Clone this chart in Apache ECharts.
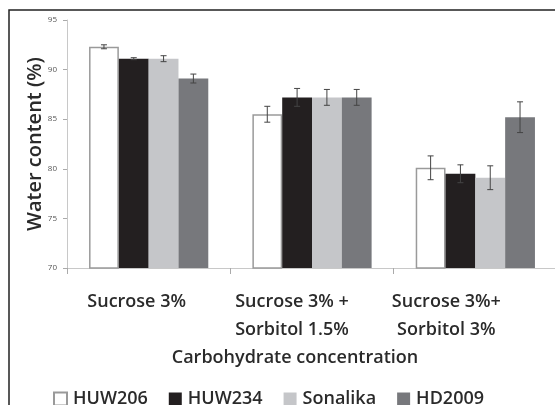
<!DOCTYPE html>
<html><head><meta charset="utf-8">
<script src="https://cdn.jsdelivr.net/npm/echarts@6/dist/echarts.min.js"></script>
<style>html,body{margin:0;padding:0;background:#fff}#c{width:555px;height:405px}</style>
</head><body><div id="c"></div>
<script>
const categories = ['Sucrose 3%', 'Sucrose 3% +\nSorbitol 1.5%', 'Sucrose 3%+\nSorbitol 3%'];
const seriesNames = ['HUW206', 'HUW234', 'Sonalika', 'HD2009'];
const huw206 = [92.3, 85.5, 80.1];
const huw234 = [91.1, 87.2, 79.5];
const sonalika = [91.1, 87.2, 79.1];
const hd2009 = [89.1, 87.2, 85.2];
const errHuw206 = [0.2, 0.8, 1.2];
const errHuw234 = [0.1, 0.9, 0.9];
const errSonalika = [0.3, 0.8, 1.2];
const errHd2009 = [0.45, 0.8, 1.55];
const yTicks = [70, 75, 80, 85, 90, 95];

const values = [huw206, huw234, sonalika, hd2009];
const errs = [errHuw206, errHuw234, errSonalika, errHd2009];
const colors = ['#ffffff', '#231f20', '#c5c6c9', '#77787c'];
const borders = ['#9a9a9a', '#231f20', '#c5c6c9', '#77787c'];
const catGap = 0.27;
const font = '"Open Sans", "DejaVu Sans", sans-serif';
const labelStyle = { fontFamily: font, fontSize: 18, fontWeight: 600, color: '#2a2a2a', lineHeight: 28 };

const chart = echarts.init(document.getElementById('c'));
const series = [];
seriesNames.forEach((n, i) => {
  series.push({
    name: n, type: 'bar', data: values[i], barGap: '0%', barCategoryGap: (catGap * 100) + '%',
    itemStyle: { color: colors[i], borderColor: borders[i], borderWidth: i === 0 ? 1.5 : 0 },
    emphasis: { disabled: true }
  });
});
seriesNames.forEach((n, i) => {
  series.push({
    type: 'custom', name: n + '_err', z: 5,
    data: values[i].map((v, k) => [k, v, errs[i][k]]),
    renderItem: function (params, api) {
      const k = api.value(0), v = api.value(1), e = api.value(2);
      const cw = api.size([1, 0])[0];
      const bw = cw * (1 - catGap) / 4;
      const cx = api.coord([k, v])[0] - cw * (1 - catGap) / 2 + bw * (i + 0.5);
      const yHi = api.coord([k, v + e])[1];
      const yLo = api.coord([k, v - e])[1];
      const cap = 3;
      const st = { stroke: '#444', lineWidth: 1 };
      return { type: 'group', children: [
        { type: 'line', shape: { x1: cx, y1: yHi, x2: cx, y2: yLo }, style: st },
        { type: 'line', shape: { x1: cx - cap, y1: yHi, x2: cx + cap, y2: yHi }, style: st },
        { type: 'line', shape: { x1: cx - cap, y1: yLo, x2: cx + cap, y2: yLo }, style: st }
      ]};
    }
  });
});

chart.setOption({
  animation: false,
  backgroundColor: '#fff',
  grid: { left: 67, top: 20, bottom: 137, right: -2, containLabel: false, outerBoundsMode: 'none' },
  graphic: [{ type: 'rect', shape: { x: 9, y: 10, width: 600, height: 500 },
    style: { fill: 'none', stroke: '#222', lineWidth: 1.5 }, silent: true }],
  legend: {
    data: seriesNames, bottom: -8, left: 48, itemGap: 21, itemWidth: 13, itemHeight: 13,
    icon: 'rect',
    textStyle: { fontFamily: font, fontSize: 18, fontWeight: 600, color: '#2a2a2a', padding: [0, 0, 0, 1] }
  },
  xAxis: {
    type: 'category', data: categories,
    name: 'Carbohydrate concentration', nameLocation: 'middle', nameGap: 81, nameMoveOverlap: false,
    nameTextStyle: { fontFamily: font, fontSize: 18, fontWeight: 600, color: '#2a2a2a', padding: [0, 34, 0, 0] },
    axisLine: { lineStyle: { color: '#c8c8c8', width: 1 } },
    axisTick: { show: true, length: 6, lineStyle: { color: '#aaa' } },
    axisLabel: {
      interval: 0, hideOverlap: false,
      margin: 20, fontFamily: font, fontSize: 18, fontWeight: 600, color: '#2a2a2a', lineHeight: 28,
      formatter: function (v, idx) {
        return v.split('\n').map(s => '{c' + idx + '|' + s + '}').join('\n');
      },
      rich: {
        c0: Object.assign({ padding: [0, 24, 0, 0] }, labelStyle),
        c1: Object.assign({ padding: [0, 40, 0, 0] }, labelStyle),
        c2: Object.assign({ padding: [0, 58, 0, 0] }, labelStyle)
      }
    }
  },
  yAxis: {
    type: 'value', min: yTicks[0], max: yTicks[yTicks.length - 1], interval: 5,
    name: 'Water content (%)', nameLocation: 'middle', nameGap: 22, nameMoveOverlap: false,
    nameTextStyle: { fontFamily: font, fontSize: 20, fontWeight: 600, color: '#2a2a2a' },
    axisLine: { show: true, lineStyle: { color: '#c8c8c8' } },
    axisTick: { show: true, length: 4, lineStyle: { color: '#aaa' } },
    splitLine: { show: false },
    axisLabel: { fontFamily: font, fontSize: 8, color: '#555', margin: 10 }
  },
  series: series
});
</script></body></html>
